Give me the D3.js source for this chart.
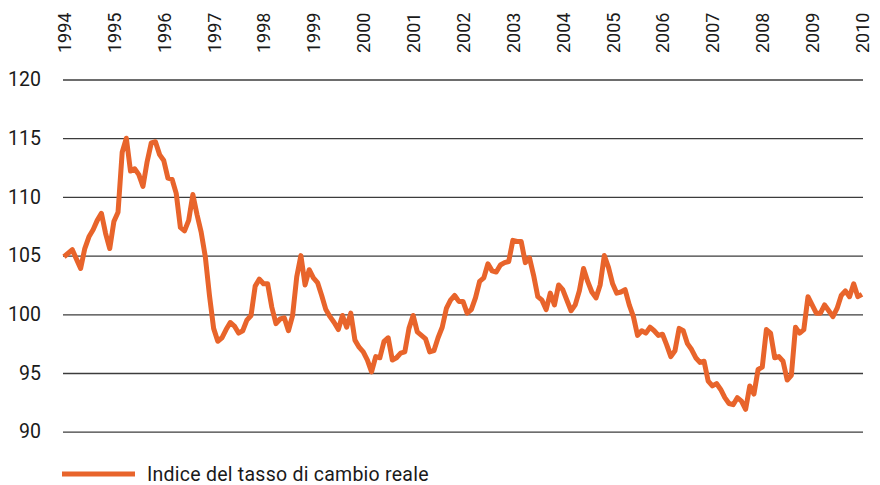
<!DOCTYPE html>
<html>
<head>
<meta charset="utf-8">
<script src="https://cdn.jsdelivr.net/npm/d3@7"></script>
<style>
  body { margin: 0; background: #fff; }
  text { font-family: Roboto, "Liberation Sans", sans-serif; fill: #1a1a1a; }
</style>
</head>
<body>
<div id="chart"></div>
<script>
// tick labels
const yearLabels = ["1994", "1995", "1996", "1997", "1998", "1999", "2000", "2001", "2002",
    "2003", "2004", "2005", "2006", "2007", "2008", "2009", "2010"];
const yTicks = [90, 95, 100, 105, 110, 115, 120];
const seriesName = "Indice del tasso di cambio reale";

// monthly values, Jan 1994 - Jan 2010
const rateIndex = [
    104.9, 105.2, 105.5, 104.7, 103.9, 105.6, 106.6, 107.2, 108.0, 108.6, 106.9, 105.6,
    107.9, 108.7, 113.8, 115.0, 112.2, 112.4, 111.9, 110.9, 113.0, 114.6, 114.7, 113.6,
    113.1, 111.6, 111.5, 110.3, 107.4, 107.1, 108.0, 110.2, 108.5, 107.0, 104.9, 101.6,
    98.8, 97.7, 98.0, 98.7, 99.3, 99.0, 98.4, 98.6, 99.5, 99.9, 102.4, 103.0,
    102.6, 102.6, 100.6, 99.2, 99.6, 99.7, 98.6, 99.9, 103.2, 105.0, 102.5, 103.8,
    103.1, 102.7, 101.6, 100.4, 99.8, 99.3, 98.7, 99.9, 98.9, 100.1, 97.8, 97.2,
    96.8, 96.1, 95.1, 96.4, 96.3, 97.7, 98.0, 96.1, 96.3, 96.7, 96.8, 98.8,
    99.9, 98.5, 98.2, 97.9, 96.8, 96.9, 98.0, 98.9, 100.5, 101.2, 101.6, 101.1,
    101.1, 100.1, 100.4, 101.4, 102.8, 103.1, 104.3, 103.7, 103.6, 104.2, 104.4, 104.5,
    106.3, 106.2, 106.2, 104.4, 104.8, 103.3, 101.5, 101.2, 100.4, 101.8, 100.8, 102.5,
    102.1, 101.2, 100.3, 100.8, 102.0, 103.9, 102.8, 101.9, 101.4, 102.5, 105.0, 104.0,
    102.6, 101.8, 101.9, 102.1, 100.8, 99.8, 98.2, 98.6, 98.4, 98.9, 98.6, 98.2,
    98.3, 97.4, 96.4, 96.9, 98.8, 98.6, 97.5, 97.0, 96.3, 95.9, 96.0, 94.3,
    93.9, 94.1, 93.6, 92.9, 92.4, 92.3, 92.9, 92.6, 91.9, 93.9, 93.2, 95.3,
    95.5, 98.7, 98.4, 96.3, 96.4, 96.0, 94.4, 94.8, 98.9, 98.4, 98.7, 101.5,
    100.8, 100.1, 100.1, 100.8, 100.3, 99.8, 100.5, 101.6, 102.0, 101.5, 102.6, 101.5,
    101.7
];

const width = 880, height = 485;
const plotLeft = 63, plotRight = 863;
const lineColor = "#e8642b";

const svg = d3.select("#chart").append("svg")
    .attr("width", width)
    .attr("height", height);

// month index -> x
const x = d3.scaleLinear()
    .domain([0, rateIndex.length - 1])
    .range([64, 862]);

const y = d3.scaleLinear()
    .domain([90, 120])
    .range([431.7, 79.5]);

// y axis + gridlines
const yAxis = svg.append("g")
    .attr("transform", `translate(${plotLeft},0)`)
    .call(d3.axisLeft(y)
        .tickValues(yTicks)
        .tickSize(-(plotRight - plotLeft))
        .tickPadding(22)
        .tickFormat(d3.format("d")));
yAxis.select(".domain").remove();
yAxis.selectAll("line")
    .attr("stroke", "#3c3c3c")
    .attr("stroke-width", 1.3);
yAxis.selectAll("text")
    .attr("font-size", 19.5)
    .attr("fill", "#1a1a1a");

// years on top, rotated
const xAxis = svg.append("g")
    .attr("transform", "translate(0,53)")
    .call(d3.axisTop(x)
        .tickValues(yearLabels.map((d, i) => i * 12))
        .tickSize(0)
        .tickFormat((d, i) => yearLabels[i]));
xAxis.select(".domain").remove();
xAxis.selectAll("text")
    .attr("x", 0)
    .attr("y", 0)
    .attr("dy", "0.36em")
    .attr("transform", "rotate(-90)")
    .style("text-anchor", "start")
    .attr("font-size", 18)
    .attr("fill", "#1a1a1a");

// the series
const line = d3.line()
    .x((d, i) => x(i))
    .y(d => y(d));

svg.append("path")
    .datum(rateIndex)
    .attr("d", line)
    .attr("fill", "none")
    .attr("stroke", lineColor)
    .attr("stroke-width", 5)
    .attr("stroke-linejoin", "round");

// legend
const legend = svg.append("g").attr("transform", "translate(62,474)");
legend.append("line")
    .attr("x1", 0).attr("x2", 73)
    .attr("stroke", lineColor)
    .attr("stroke-width", 5);
legend.append("text")
    .attr("x", 85)
    .attr("dy", "0.35em")
    .attr("font-size", 19.5)
    .attr("letter-spacing", 0.25)
    .text(seriesName);
</script>
</body>
</html>
